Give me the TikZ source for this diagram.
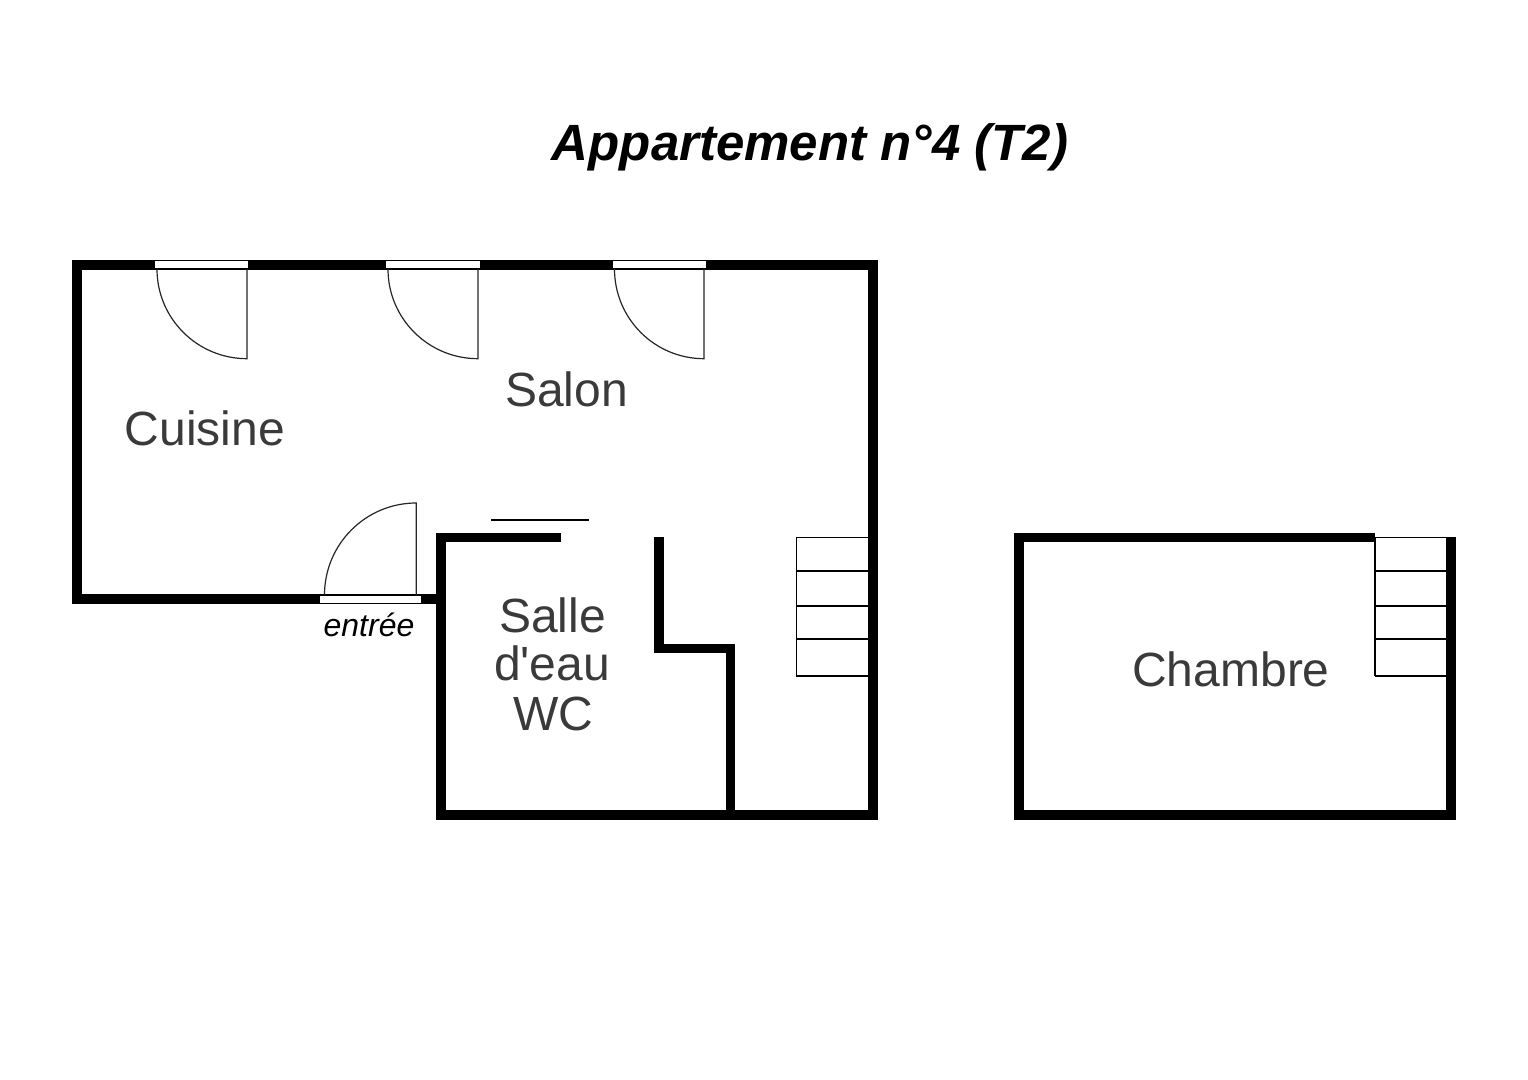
\documentclass[tikz,border=0pt]{standalone}
\usepackage{fontspec}
\setmainfont{Liberation Sans}[Ligatures=TeXOff]
\definecolor{roomtext}{HTML}{3A3A3A}
\tikzset{
  wall/.style={line width=4.8pt,draw=black,miter limit=10,line cap=butt},
  leaf/.style={line width=0.6pt,draw=black!85},
  tread/.style={line width=0.95pt,draw=black},
  opening/.style={line width=0.5pt,draw=black,fill=white},
  room/.style={anchor=base,inner sep=0pt,text=roomtext,font=\fontsize{24}{26}\selectfont},
  titletext/.style={anchor=base,inner sep=0pt,text=black,font=\fontsize{25.5}{30}\selectfont\bfseries\itshape},
  entrytext/.style={anchor=base,inner sep=0pt,text=black,font=\fontsize{16}{18}\selectfont\itshape}
}
\begin{document}
\begin{tikzpicture}[x=0.5pt,y=-0.5pt]
\useasboundingbox (0,0) rectangle (1528,1080);
\fill[white] (0,0) rectangle (1528,1080);
% stairs, salon
\foreach \y in {537.5,571,606,639,676} \draw[tread] (796,\y) -- (868,\y);
\draw[tread] (796.5,537.5) -- (796.5,676.5);
% stairs, chambre
\foreach \y in {537.5,571,606,639,676} \draw[tread] (1375,\y) -- (1446,\y);
\draw[tread] (1375,537.5) -- (1375,676.5);
% walls
\draw[wall] (441,599) -- (77,599) -- (77,265) -- (872.7,265) -- (872.7,815) -- (441,815) -- (441,537.6) -- (561,537.6);
\draw[wall] (659,536.7) -- (659,648.5) -- (730.5,648.5) -- (730.5,815);
\draw[wall] (1375,537.6) -- (1019,537.6) -- (1019,815) -- (1451,815) -- (1451,536.7);
% openings
\draw[opening] (154.5,260.7) rectangle (248.5,269);
\draw[opening] (385.7,260.7) rectangle (480,269);
\draw[opening] (612,260.7) rectangle (706,269);
\draw[opening] (319.3,595.2) rectangle (421.7,603.5);
% door leaves
\draw[leaf] (157,269) arc[start angle=180,end angle=270,x radius=90,y radius=-89.7] -- (247,269);
\draw[leaf] (388,269) arc[start angle=180,end angle=270,x radius=90,y radius=-89.7] -- (478,269);
\draw[leaf] (614.5,269) arc[start angle=180,end angle=270,x radius=89.5,y radius=-89.7] -- (704,269);
\draw[leaf] (324.5,595) arc[start angle=180,end angle=90,x radius=91.8,y radius=-92] -- (416.3,595);
% sliding door
\draw[line width=1pt,draw=black] (491,519.7) -- (588.5,519.7);
% labels
\node[titletext] (title) at (810,161) {Appartement n°4 (T2)};
\node[room] (cuisine) at (205,445.5) {Cuisine};
\node[room] (salon) at (566.5,407) {Salon};
\node[room] (salle) at (552.5,633) {Salle};
\node[room] (deau) at (552,681) {d'eau};
\node[room] (wc) at (553,731) {WC};
\node[room] (chambre) at (1231,687) {Chambre};
\node[entrytext] (entree) at (369,636.5) {entrée};
\end{tikzpicture}
\end{document}
